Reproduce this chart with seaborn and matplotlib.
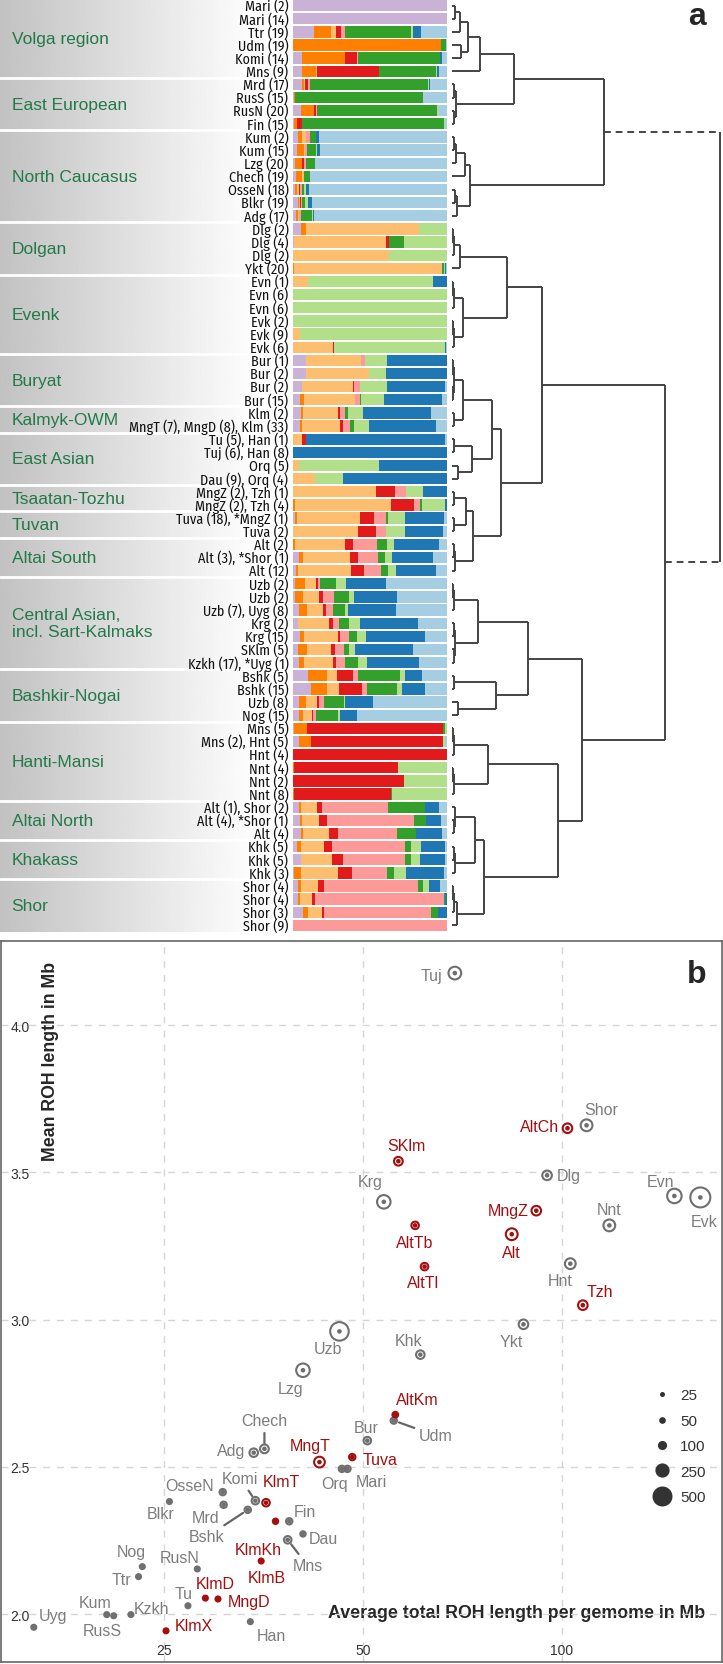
import os
import numpy as np
import pandas as pd
import matplotlib
matplotlib.use("Agg")
import matplotlib.pyplot as plt
from matplotlib import font_manager
from matplotlib.font_manager import FontProperties
from matplotlib.lines import Line2D
import seaborn as sns

# ---------------- panel a data ----------------
row_labels = [
    "Mari (2)", "Mari (14)", "Ttr (19)", "Udm (19)", "Komi (14)", "Mns (9)",
    "Mrd (17)", "RusS (15)", "RusN (20)", "Fin (15)",
    "Kum (2)", "Kum (15)", "Lzg (20)", "Chech (19)", "OsseN (18)", "Blkr (19)", "Adg (17)",
    "Dlg (2)", "Dlg (4)", "Dlg (2)", "Ykt (20)",
    "Evn (1)", "Evn (6)", "Evn (6)", "Evk (2)", "Evk (9)", "Evk (6)",
    "Bur (1)", "Bur (2)", "Bur (2)", "Bur (15)",
    "Klm (2)", "MngT (7), MngD (8), Klm (33)",
    "Tu (5), Han (1)", "Tuj (6), Han (8)", "Orq (5)", "Dau (9), Orq (4)",
    "MngZ (2), Tzh (1)", "MngZ (2), Tzh (4)",
    "Tuva (18), *MngZ (1)", "Tuva (2)",
    "Alt (2)", "Alt (3), *Shor (1)", "Alt (12)",
    "Uzb (2)", "Uzb (2)", "Uzb (7), Uyg (8)", "Krg (2)", "Krg (15)", "SKlm (5)", "Kzkh (17), *Uyg (1)",
    "Bshk (5)", "Bshk (15)", "Uzb (8)", "Nog (15)",
    "Mns (5)", "Mns (2), Hnt (5)", "Hnt (4)", "Nnt (4)", "Nnt (2)", "Nnt (8)",
    "Alt (1), Shor (2)", "Alt (4), *Shor (1)", "Alt (4)",
    "Khk (5)", "Khk (5)", "Khk (3)",
    "Shor (4)", "Shor (4)", "Shor (3)", "Shor (9)",
]

groups = ["Volga region", "East European", "North Caucasus", "Dolgan", "Evenk", "Buryat",
          "Kalmyk-OWM", "East Asian", "Tsaatan-Tozhu", "Tuvan", "Altai South",
          "Central Asian,\nincl. Sart-Kalmaks", "Bashkir-Nogai", "Hanti-Mansi",
          "Altai North", "Khakass", "Shor"]
group_sizes = [6, 4, 7, 4, 6, 4, 2, 4, 2, 2, 3, 7, 4, 6, 3, 3, 4]

# component order left to right: purple, orange, light orange, red, pink,
# green, light green, blue, light blue
ancestry = [
    [100, 0, 0, 0, 0, 0, 0, 0, 0],
    [100, 0, 0, 0, 0, 0, 0, 0, 0],
    [13.4, 11.5, 3.2, 3, 2.8, 42.6, 1, 5.4, 16.9],
    [0, 96.3, 0, 0, 0, 3.2, 0, 0, 0.5],
    [5.8, 27.7, 0, 8, 0.4, 53, 0.4, 1, 3.2],
    [5.8, 9.3, 0.4, 40, 0.4, 37, 0.4, 1.3, 5.2],
    [5.8, 1.5, 0.3, 2.2, 1, 76.6, 1, 0.3, 11.3],
    [0.8, 0.6, 0, 0, 0, 83, 0.2, 0, 15.6],
    [5.2, 8.2, 0.4, 1.3, 0.4, 78, 0.4, 0, 6],
    [0.5, 2.2, 0, 3, 0, 92.2, 1, 0, 1],
    [3, 2.8, 2.6, 0, 2.4, 3.9, 0, 2.2, 83.1],
    [2.6, 4.3, 1.1, 0, 1.1, 6, 0.4, 2.2, 82.3],
    [1.5, 4.3, 0, 1.5, 1, 5.8, 0.4, 0, 85.3],
    [2.2, 3.7, 1.1, 0, 0, 3.9, 0.4, 0, 88.7],
    [1.3, 1.3, 1.3, 0.9, 1.1, 1.5, 0.9, 1.9, 89.8],
    [3, 0.9, 0.4, 0.9, 0.9, 1.7, 1.7, 2.8, 87.7],
    [2.2, 1.1, 0.9, 0, 1.1, 6.9, 0.6, 1.1, 86.1],
    [5.2, 3.2, 73.4, 0, 0, 0, 18.2, 0, 0],
    [0.5, 0, 59.5, 2.2, 0, 9.3, 28.1, 0, 0],
    [0, 0, 62.1, 0, 0, 0, 37.9, 0, 0],
    [0.3, 0.3, 96.1, 0.3, 0, 1, 0.9, 0.3, 0.8],
    [0, 0, 9.5, 0, 0, 0, 81.2, 9.3, 0],
    [0, 0, 0, 0, 0, 0, 100, 0, 0],
    [0, 0, 0, 0, 0, 0, 100, 0, 0],
    [0, 0, 0, 0, 0, 0, 100, 0, 0],
    [0, 0, 4.8, 0, 0, 0, 95.2, 0, 0],
    [0, 0, 25.8, 1, 0, 0, 71.6, 1, 0.6],
    [8.7, 0, 35.7, 0, 2.2, 0, 14.5, 39, 0],
    [8.7, 0, 40.5, 0, 0, 0, 11.3, 39.6, 0],
    [5.6, 0, 33.3, 0.9, 3.9, 0, 17.3, 37.9, 1.1],
    [4.8, 2.6, 33.1, 0, 3.2, 0.4, 14.7, 37.9, 3.2],
    [5.2, 1.3, 22.5, 1.7, 2.8, 1.9, 10, 44.2, 10.4],
    [4.3, 1.5, 24.9, 1.5, 4.5, 2.6, 9.7, 43.5, 7.4],
    [0, 0, 5.8, 2.8, 0, 0, 0, 89.8, 1.5],
    [0, 0, 0, 0, 0, 0, 0, 100, 0],
    [0, 0, 3.7, 0, 0, 0, 52.4, 43.9, 0],
    [0, 0, 14.3, 0, 0, 0, 18.2, 67.5, 0],
    [0, 0, 54.1, 12.3, 6.9, 0, 10.8, 15.8, 0],
    [0, 1.3, 62.3, 14.7, 3.9, 1.3, 15.4, 1.1, 0],
    [1.5, 1.1, 41.1, 8.7, 8.2, 1.1, 11.3, 24.9, 2.2],
    [0, 0, 42.2, 11.7, 6.7, 0, 12.3, 24.2, 2.8],
    [0, 1.3, 32.7, 5, 15.6, 6.5, 4.3, 29.2, 5.4],
    [4.1, 2.4, 30.3, 5.2, 13.2, 4.3, 5, 26.4, 9.1],
    [1.9, 1.1, 34.6, 8.7, 11, 4.1, 5.4, 26.2, 6.9],
    [1.3, 6.7, 6.9, 1.3, 1.5, 10.4, 6.5, 26, 39.4],
    [1.5, 5, 10.2, 2.8, 6.9, 9.7, 3.7, 27.7, 32.5],
    [4.1, 5.2, 10.2, 1.7, 4.5, 8.2, 1.7, 31.2, 33.1],
    [3.2, 0, 20.3, 2.2, 3.9, 6.5, 7.1, 37.7, 19],
    [4.8, 2.6, 21.6, 1.5, 6.1, 5, 5.8, 38.1, 14.5],
    [3.2, 5.8, 15.8, 2.6, 5.4, 3.7, 3.9, 37.4, 22.1],
    [3.9, 3.5, 18.6, 2.2, 5.4, 8.4, 6.1, 34, 18],
    [9.7, 12.3, 6.5, 10.4, 3, 27.3, 3.2, 11.3, 16.2],
    [11.9, 10.2, 7.6, 15.2, 3.2, 19.5, 3.2, 15.2, 14.1],
    [4.1, 4.5, 6.9, 1.5, 3.2, 12.6, 1.1, 18, 48.1],
    [4.1, 2.4, 5.8, 0.6, 1.7, 14.3, 1.7, 10.8, 58.4],
    [0.9, 8.1, 0, 88.3, 0, 1.2, 1.5, 0, 0],
    [3.9, 7.5, 0, 85.8, 0, 0, 1.2, 0, 1.5],
    [0, 0, 0, 100, 0, 0, 0, 0, 0],
    [0, 0.6, 0, 67.8, 0, 0, 31.6, 0, 0],
    [0, 0, 0, 72.3, 0, 0, 27.7, 0, 0],
    [0, 0.6, 0, 63.3, 0, 0.6, 35.5, 0, 0],
    [3.9, 1.2, 10.2, 3.6, 42.8, 24.1, 0, 9, 5.2],
    [4.5, 1.5, 11.1, 4.8, 56.3, 8.1, 0, 9.9, 3.6],
    [5.1, 1.2, 16.9, 6.3, 38.3, 12, 0, 17.2, 3],
    [2.4, 2.7, 15.1, 4.8, 47.6, 3.9, 6.3, 15.7, 1.5],
    [5.1, 0, 19.9, 7.2, 40.4, 4.2, 5.4, 16.3, 1.5],
    [0.9, 4.5, 24.1, 8.7, 22.9, 4.2, 7.8, 24.7, 2.1],
    [3, 2.1, 11.4, 3.6, 60.8, 3.6, 3.6, 7.2, 4.5],
    [3, 1.5, 8.1, 1.5, 83.7, 0.9, 0, 1.2, 0],
    [6.3, 3.3, 9, 1.8, 69.3, 4.2, 0, 6, 0],
    [0, 0, 0, 0, 100, 0, 0, 0, 0],
]

# dendrogram merges: (name, left, right, height); integer children are rows
merges = [
    ("v1", 0, 1, 2.5), ("v2", "v1", 2, 7.5), ("v3", 3, 4, 9), ("v4", "v2", "v3", 16),
    ("v5", "v4", 5, 28),
    ("e1", 6, 7, 2), ("e2", 8, 9, 2), ("e3", "e1", "e2", 4), ("ve", "v5", "e3", 61.5),
    ("n1", 10, 11, 2), ("n2", "n1", 12, 4), ("n3", "n2", 13, 12.5), ("n4", 14, 15, 2.5),
    ("n5", "n4", 16, 5), ("n6", "n3", "n5", 17.5),
    ("A", "ve", "n6", 151.5),
    ("d1", 17, 18, 1), ("d2", "d1", 19, 1.5), ("d3", "d2", 20, 7.5),
    ("ev1", 21, 22, 1), ("ev2", "ev1", 23, 1.5), ("ev3", 24, 25, 1), ("ev4", "ev3", 26, 1.5),
    ("ev5", "ev2", "ev4", 10.5), ("de", "d3", "ev5", 54.5),
    ("b1", 27, 28, 1), ("b2", 29, 30, 1), ("b3", "b1", "b2", 2), ("k1", 31, 32, 1.5),
    ("bk", "b3", "k1", 10.5),
    ("a1", 33, 34, 1.5), ("a2", 35, 36, 6), ("a3", "a1", "a2", 19.5), ("bkea", "bk", "a3", 39.5),
    ("t1", 37, 38, 1.5), ("t2", 39, 40, 1.5), ("t3", "t1", "t2", 14), ("al1", 41, 42, 1.5),
    ("al2", "al1", 43, 3), ("t4", "t3", "al2", 21),
    ("em", "bkea", "t4", 49), ("B1", "de", "em", 90),
    ("c1", 44, 45, 1), ("c2", "c1", 46, 1.5), ("c3", 47, 48, 1.5), ("c4", 49, 50, 2),
    ("c5", "c3", "c4", 3), ("c6", "c2", "c5", 25.5),
    ("bn1", 51, 52, 1.5), ("bn2", 53, 54, 6), ("bn3", "bn1", "bn2", 43.5), ("cb", "c6", "bn3", 75.5),
    ("h1", 55, 56, 1), ("h2", "h1", 57, 1.5), ("h3", 58, 59, 1), ("h4", "h3", 60, 1.5),
    ("h5", "h2", "h4", 35.5),
    ("an1", 62, 63, 1.5), ("an2", 61, "an1", 2.5), ("kh1", 64, 65, 1.5), ("kh2", "kh1", 66, 2.5),
    ("akh", "an2", "kh2", 23),
    ("s1", 67, 68, 1), ("s2", "s1", 69, 2), ("s3", "s2", 70, 4.5), ("ss", "akh", "s3", 31.5),
    ("sib", "h5", "ss", 106), ("B2", "cb", "sib", 129.5), ("B", "B1", "B2", 212.5),
    ("root", "A", "B", 267.5),
]

# ---------------- panel b data ----------------
pops = ["Uyg", "Kum", "RusS", "Kzkh", "Ttr", "Nog", "Blkr", "KlmX", "Tu", "RusN",
        "KlmD", "MngD", "OsseN", "Mrd", "Han", "Bshk", "Adg", "Komi", "Chech", "KlmT",
        "KlmB", "KlmKh", "Fin", "Mns", "Dau", "Lzg", "MngT", "Orq", "Mari", "Tuva",
        "Bur", "AltKm", "Udm", "Khk", "Ykt", "Tzh", "Krg", "Uzb", "SKlm", "Tuj",
        "AltCh", "Shor", "Dlg", "Evn", "Evk", "MngZ", "Nnt", "AltTb", "Alt", "AltTl", "Hnt"]
total_roh = [15.9, 20.5, 21.0, 22.3, 22.9, 23.2, 25.5, 25.2, 27.2, 28.1,
             28.9, 30.2, 30.7, 30.8, 33.8, 33.5, 34.2, 34.4, 35.5, 35.7,
             35.1, 36.9, 38.7, 38.5, 40.6, 40.6, 43.0, 46.5, 47.4, 48.2,
             50.8, 56.0, 55.7, 61.1, 87.5, 107.6, 53.8, 46.1, 56.6, 68.9,
             102, 109, 95, 148, 162, 91.5, 118, 60, 84, 62, 103]
mean_roh = [1.955, 1.998, 1.994, 1.998, 2.127, 2.161, 2.382, 1.943, 2.028, 2.153,
            2.054, 2.051, 2.414, 2.371, 1.974, 2.354, 2.548, 2.385, 2.561, 2.378,
            2.180, 2.315, 2.315, 2.252, 2.272, 2.828, 2.516, 2.493, 2.493, 2.533,
            2.589, 2.677, 2.657, 2.881, 2.984, 3.049, 3.400, 2.960, 3.538, 4.177,
            3.65, 3.66, 3.49, 3.42, 3.415, 3.37, 3.32, 3.32, 3.29, 3.18, 3.19]
n_count = [25, 25, 25, 25, 25, 25, 25, 25, 25, 25,
           25, 25, 45, 45, 25, 45, 85, 65, 90, 65,
           25, 30, 45, 65, 30, 225, 140, 45, 45, 45,
           65, 35, 45, 85, 110, 110, 225, 430, 90, 200,
           110, 170, 110, 260, 640, 110, 170, 65, 170, 65, 140]
highlight = [0, 0, 0, 0, 0, 0, 0, 1, 0, 0,
             1, 1, 0, 0, 0, 0, 0, 0, 0, 1,
             1, 1, 0, 0, 0, 0, 1, 0, 0, 1,
             0, 1, 0, 0, 0, 1, 0, 0, 1, 0,
             1, 0, 0, 0, 0, 1, 0, 1, 1, 1, 0]
legend_sizes = [25, 50, 100, 250, 500]

# label placement (pixels from the point, y up) and connector lines
label_offset = {
    "Uyg": (19, 12), "Kum": (-12, 12), "RusS": (-11, -15), "Kzkh": (21, 6), "Ttr": (-17, -3),
    "Nog": (-11, 15), "Blkr": (-9, -12), "KlmX": (28, 5), "Tu": (-4, 12), "RusN": (-18, 11),
    "KlmD": (10, 15), "MngD": (31, -3), "OsseN": (-33, 7), "Mrd": (-18, -13), "Han": (21, -14),
    "Bshk": (-41, -27), "Adg": (-23, 2), "Komi": (-15, 22), "Chech": (0, 28), "KlmT": (15, 21),
    "KlmB": (6, -16), "KlmKh": (-17, -28), "Fin": (16, 10), "Mns": (20, -26), "Dau": (20, -5),
    "Lzg": (-12, -18), "MngT": (-9, 17), "Orq": (-7, -15), "Mari": (24, -13), "Tuva": (28, -2),
    "Bur": (-1, 13), "AltKm": (22, 15), "Udm": (42, -15), "Khk": (-12, 14), "Ykt": (-12, -17),
    "Tzh": (17, 14), "Krg": (-14, 20), "Uzb": (-12, -17), "SKlm": (8, 16), "Tuj": (-23, -2),
    "AltCh": (-28, 2), "Shor": (15, 16), "Dlg": (22, 0), "Evn": (-14, 14), "Evk": (4, -24),
    "MngZ": (-28, 0), "Nnt": (0, 16), "AltTb": (0, -17), "Alt": (0, -18), "AltTl": (-2, -16),
    "Hnt": (-10, -17),
}
connected = {"Bshk", "Komi", "Chech", "Mns", "Udm"}

# ---------------- style ----------------
sns.set_style("white")
plt.rcParams["font.family"] = ["Liberation Sans", "DejaVu Sans"]

W, H = 723, 1665
fig = plt.figure(figsize=(W / 100, H / 100), dpi=100)
renderer = fig.canvas.get_renderer()


def px_axes(x0, y0, x1, y1):
    return fig.add_axes([x0 / W, 1 - y1 / H, (x1 - x0) / W, (y1 - y0) / H])


def text_width(fp, s):
    t = fig.text(0, 0, s, fontproperties=fp)
    w = t.get_window_extent(renderer).width
    t.remove()
    return w


# pick the narrow font whose width best fits the row labels of the reference
probe_label, probe_width = "Kzkh (17), *Uyg (1)", 101.0
heavy = ("bold", "italic", "light", "medium", "black", "thin", "oblique", "mono", "display")
candidates = []
for f in font_manager.fontManager.ttflist:
    base = os.path.basename(f.fname).lower()
    if ("condensed" in base or "narrow" in base) and not any(h in base for h in heavy):
        candidates.append(f.fname)
best, best_diff = None, None
for fname in sorted(set(candidates)):
    fp = FontProperties(fname=fname, size=10.2)
    try:
        diff = abs(text_width(fp, probe_label) - probe_width)
    except Exception:
        continue
    if best_diff is None or diff < best_diff:
        best, best_diff = fname, diff
row_fp = FontProperties(fname=best) if best else FontProperties(family="Liberation Sans")
row_fp.set_size(10.2)
row_fp.set_size(min(10.6, 10.2 * probe_width / text_width(row_fp, probe_label)))

n_rows = len(row_labels)
palette = sns.color_palette("Paired")
comp_colors = [palette[i] for i in [8, 7, 6, 5, 4, 3, 2, 1, 0]]
green = "#23794a"

# ---- labels and gradient background ----
ax_lab = px_axes(0, 0, 293, 933)
shade = np.clip(0.76 + 0.27 * np.linspace(0, 1, 300), 0, 1)
ax_lab.imshow(shade[None, :], cmap="gray", vmin=0, vmax=1, aspect="auto",
              extent=[0, 293, n_rows, 0])
bounds = np.cumsum([0] + group_sizes)
for b in bounds[1:-1]:
    ax_lab.axhline(b, color="white", lw=2)
for g, lo, hi in zip(groups, bounds[:-1], bounds[1:]):
    ax_lab.text(11.5, (lo + hi) / 2, g, ha="left", va="center", color=green,
                fontsize=12.5, linespacing=1.15)
for i, lab in enumerate(row_labels):
    ax_lab.text(288.5, i + 0.52, lab, ha="right", va="center", fontproperties=row_fp,
                color="#111111")
ax_lab.set_xlim(0, 293)
ax_lab.set_ylim(n_rows, 0)
ax_lab.axis("off")

# ---- stacked ancestry bars ----
ax_bar = px_axes(293, 0, 447, 933)
anc = np.array(ancestry, dtype=float)
anc = anc / anc.sum(axis=1, keepdims=True) * 100
rows = np.arange(n_rows) + 0.5
left = np.zeros(n_rows)
for k in range(anc.shape[1]):
    ax_bar.barh(rows, anc[:, k], left=left, height=0.86, color=comp_colors[k], lw=0)
    left += anc[:, k]
ax_bar.set_xlim(0, 100)
ax_bar.set_ylim(n_rows, 0)
ax_bar.axis("off")

# ---- dendrogram ----
ax_den = px_axes(449, 0, 723, 933)
pos = {i: (0.0, i + 0.5) for i in range(n_rows)}
for name, a, b, h in merges:
    xa, ya = pos[a]
    xb, yb = pos[b]
    ls = (0, (3.5, 2.5)) if name == "root" else "-"
    ax_den.plot([h, h], [ya, yb], color="#444444", lw=1.4, solid_capstyle="butt")
    ax_den.plot([xa, h], [ya, ya], color="#444444", lw=1.4, ls=ls, solid_capstyle="butt")
    ax_den.plot([xb, h], [yb, yb], color="#444444", lw=1.4, ls=ls, solid_capstyle="butt")
    pos[name] = (h, (ya + yb) / 2)
ax_den.set_xlim(-3, 271)
ax_den.set_ylim(n_rows, 0)
ax_den.axis("off")

fig.text(697 / W, 1 - 17 / H, "a", ha="center", va="center", fontsize=23, fontweight="bold")

# ---------------- panel b ----------------
ax = px_axes(0.5, 942, 722, 1663)
df = pd.DataFrame({"pop": pops, "total": total_roh, "mean": mean_roh,
                   "n": n_count, "red": highlight})
gray, red = "#6f6f6f", "#a30f0f"
size_range, size_norm = (13, 207), (25, 500)

ax.set_xscale("log")
for flag, col in [(0, gray), (1, red)]:
    sub = df[df["red"] == flag]
    sns.scatterplot(data=sub, x="total", y="mean", size="n", sizes=size_range,
                    size_norm=size_norm, color=col, facecolor="none", edgecolor=col,
                    linewidth=1.5, legend=False, ax=ax, zorder=3)
    sns.scatterplot(data=sub, x="total", y="mean", s=11, color=col, edgecolor="none",
                    legend=False, ax=ax, zorder=4)

for _, r in df.iterrows():
    col = red if r["red"] else "#7d7d7d"
    dx, dy = label_offset[r["pop"]]
    kw = {}
    if r["pop"] in connected:
        kw["arrowprops"] = dict(arrowstyle="-", color="#666666", lw=1.6,
                                shrinkA=1, shrinkB=4)
    ax.annotate(r["pop"], (r["total"], r["mean"]), xytext=(dx, dy),
                textcoords="offset pixels", ha="center", va="center",
                fontsize=11.5, color=col, zorder=5, **kw)

ax.set_xlim(14.16, 174.7)
ax.set_ylim(1.837, 4.286)
ax.set_xticks([25, 50, 100])
ax.set_xticklabels(["25", "50", "100"])
ax.xaxis.set_minor_locator(matplotlib.ticker.NullLocator())
ax.set_yticks([2.0, 2.5, 3.0, 3.5, 4.0])
ax.set_yticklabels(["2.0", "2.5", "3.0", "3.5", "4.0"])
ax.grid(True, which="major", color="#d6d6d6", ls=(0, (5, 5)), lw=1)
ax.set_axisbelow(True)
ax.tick_params(axis="both", direction="in", length=4, width=1, color="#555555",
               labelsize=10, labelcolor="#333333")
ax.tick_params(axis="x", pad=-14)
ax.tick_params(axis="y", pad=-21)
for sp in ax.spines.values():
    sp.set_visible(True)
    sp.set_color("#666666")
    sp.set_linewidth(1.2)

ax.set_xlabel("Average total ROH length per gemome in Mb", fontsize=12.8, fontweight="bold")
ax.set_ylabel("Mean ROH length in Mb", fontsize=12.8, fontweight="bold")
ax.xaxis.set_label_coords(0.9765, 0.068)
ax.xaxis.label.set_horizontalalignment("right")
ax.xaxis.label.set_verticalalignment("center")
ax.yaxis.set_label_coords(0.069, 0.834)
ax.yaxis.label.set_verticalalignment("center")


def size_to_pt(v):
    s = size_range[0] + (v - size_norm[0]) / (size_norm[1] - size_norm[0]) * (size_range[1] - size_range[0])
    return np.sqrt(s)


handles = [Line2D([], [], ls="", marker="o", markersize=size_to_pt(v),
                  markerfacecolor="#333333", markeredgecolor="none") for v in legend_sizes]
ax.legend(handles, [str(v) for v in legend_sizes], loc="upper left",
          bbox_to_anchor=(0.893, 0.39), frameon=False, fontsize=11,
          labelcolor="#333333", handletextpad=0.6, labelspacing=0.75,
          handlelength=1.2, borderpad=0)

fig.text(697 / W, 1 - 975 / H, "b", ha="center", va="center", fontsize=23, fontweight="bold")

fig.savefig("out.png", dpi=100)
